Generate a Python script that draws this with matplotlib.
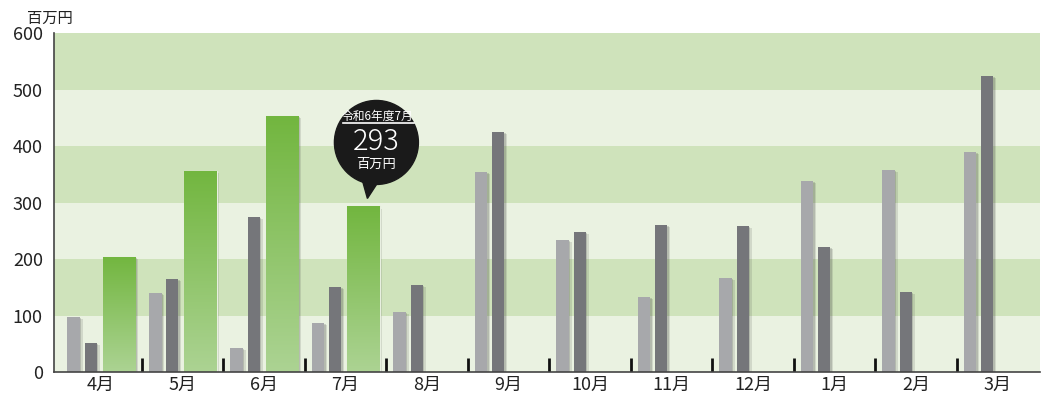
import numpy as np
import matplotlib
matplotlib.use("Agg")
import matplotlib.pyplot as plt
import matplotlib.patheffects as pe
from matplotlib.patches import Circle, Polygon
from matplotlib.transforms import ScaledTranslation

plt.rcParams['font.family'] = ['Noto Sans CJK JP', 'DejaVu Sans']

months = ['4月', '5月', '6月', '7月', '8月', '9月', '10月', '11月', '12月', '1月', '2月', '3月']
# 百万円
r4 = [97, 140, 42, 87, 106, 354, 234, 133, 167, 338, 357, 390]
r5 = [51, 165, 274, 150, 154, 425, 248, 260, 258, 221, 142, 524]
r6 = [204, 356, 453, 293]
callout_title = '令和6年度7月'
callout_value = '293'
unit = '百万円'

fig = plt.figure(figsize=(10.44, 4.01), dpi=100)
ax = fig.add_axes([0.0517, 0.0723, 0.9443, 0.8454])

# background bands
for k, lo in enumerate(range(0, 600, 100)):
    c = '#eaf2e1' if k % 2 == 0 else '#cfe3bb'
    ax.axhspan(lo, lo + 100, color=c, lw=0, zorder=0)

x = np.arange(len(months))
shadow = [pe.SimplePatchShadow(offset=(2, -1.5), alpha=0.15, shadow_rgbFace='#444444'),
          pe.SimplePatchShadow(offset=(1, -0.8), alpha=0.2, shadow_rgbFace='#444444'),
          pe.Normal()]
b1 = ax.bar(x - 0.335, r4, width=0.155, color='#a7a8ab', zorder=3)
b2 = ax.bar(x - 0.125, r5, width=0.15, color='#75767a', zorder=3)
b3 = ax.bar(x[:len(r6)] + 0.22, r6, width=0.4, color='#7ab948',
            edgecolor='#e8efe0', lw=0.8, zorder=3)
for b in list(b1) + list(b2) + list(b3):
    b.set_path_effects(shadow)

# green gradient
grad = np.linspace(0, 1, 256).reshape(-1, 1)
cmap = matplotlib.colors.LinearSegmentedColormap.from_list('g', ['#72b63f', '#acd393'])
for b in b3:
    bx, bw, bh = b.get_x(), b.get_width(), b.get_height()
    im = ax.imshow(grad, extent=(bx, bx + bw, 0, bh), aspect='auto', cmap=cmap,
                   origin='upper', zorder=4)
    im.set_clip_path(b)

# month separators
ax.vlines(x[:-1] + 0.5, 0, 24, color='#111111', lw=2, zorder=5)

ax.set_xlim(-0.577, 11.52)
ax.set_ylim(0, 600)
ax.set_yticks(range(0, 601, 100))
ax.set_xticks(x)
ax.set_xticklabels(months)
ax.tick_params(axis='both', length=0, labelsize=13, colors='#222222')
ax.tick_params(axis='y', pad=8)
ax.tick_params(axis='x', pad=3)
for s in ['top', 'right']:
    ax.spines[s].set_visible(False)
for s in ['left', 'bottom']:
    ax.spines[s].set_color('#444444')
    ax.spines[s].set_linewidth(1.2)
    ax.spines[s].set_zorder(6)

fig.text(0.026, 0.955, unit, fontsize=11, color='#222222', va='center', ha='left')

# callout bubble anchored to July green bar top
gx = x[3] + 0.22
off = fig.dpi_scale_trans + ScaledTranslation(gx, r6[3], ax.transData)
ax.add_patch(Polygon([(-0.01, 0.26), (0.17, 0.28), (0.04, 0.08)], closed=True,
                     transform=off, color='#1a1a1a', zorder=7, clip_on=False))
ax.add_patch(Circle((0.13, 0.64), 0.42, transform=off, color='#1a1a1a',
                    zorder=7, clip_on=False))
ax.text(0.14, 0.9, callout_title, transform=off, color='white', fontsize=8.5,
        ha='center', va='center', zorder=8)
ax.plot([-0.2, 0.51], [0.83, 0.83], transform=off, color='white', lw=1.2,
        zorder=8, clip_on=False)
ax.text(0.13, 0.65, callout_value, transform=off, color='white', fontsize=21,
        ha='center', va='center', zorder=8, fontweight='light')
ax.text(0.13, 0.42, unit, transform=off, color='white', fontsize=9.5,
        ha='center', va='center', zorder=8)

fig.savefig('out.png', dpi=100)
